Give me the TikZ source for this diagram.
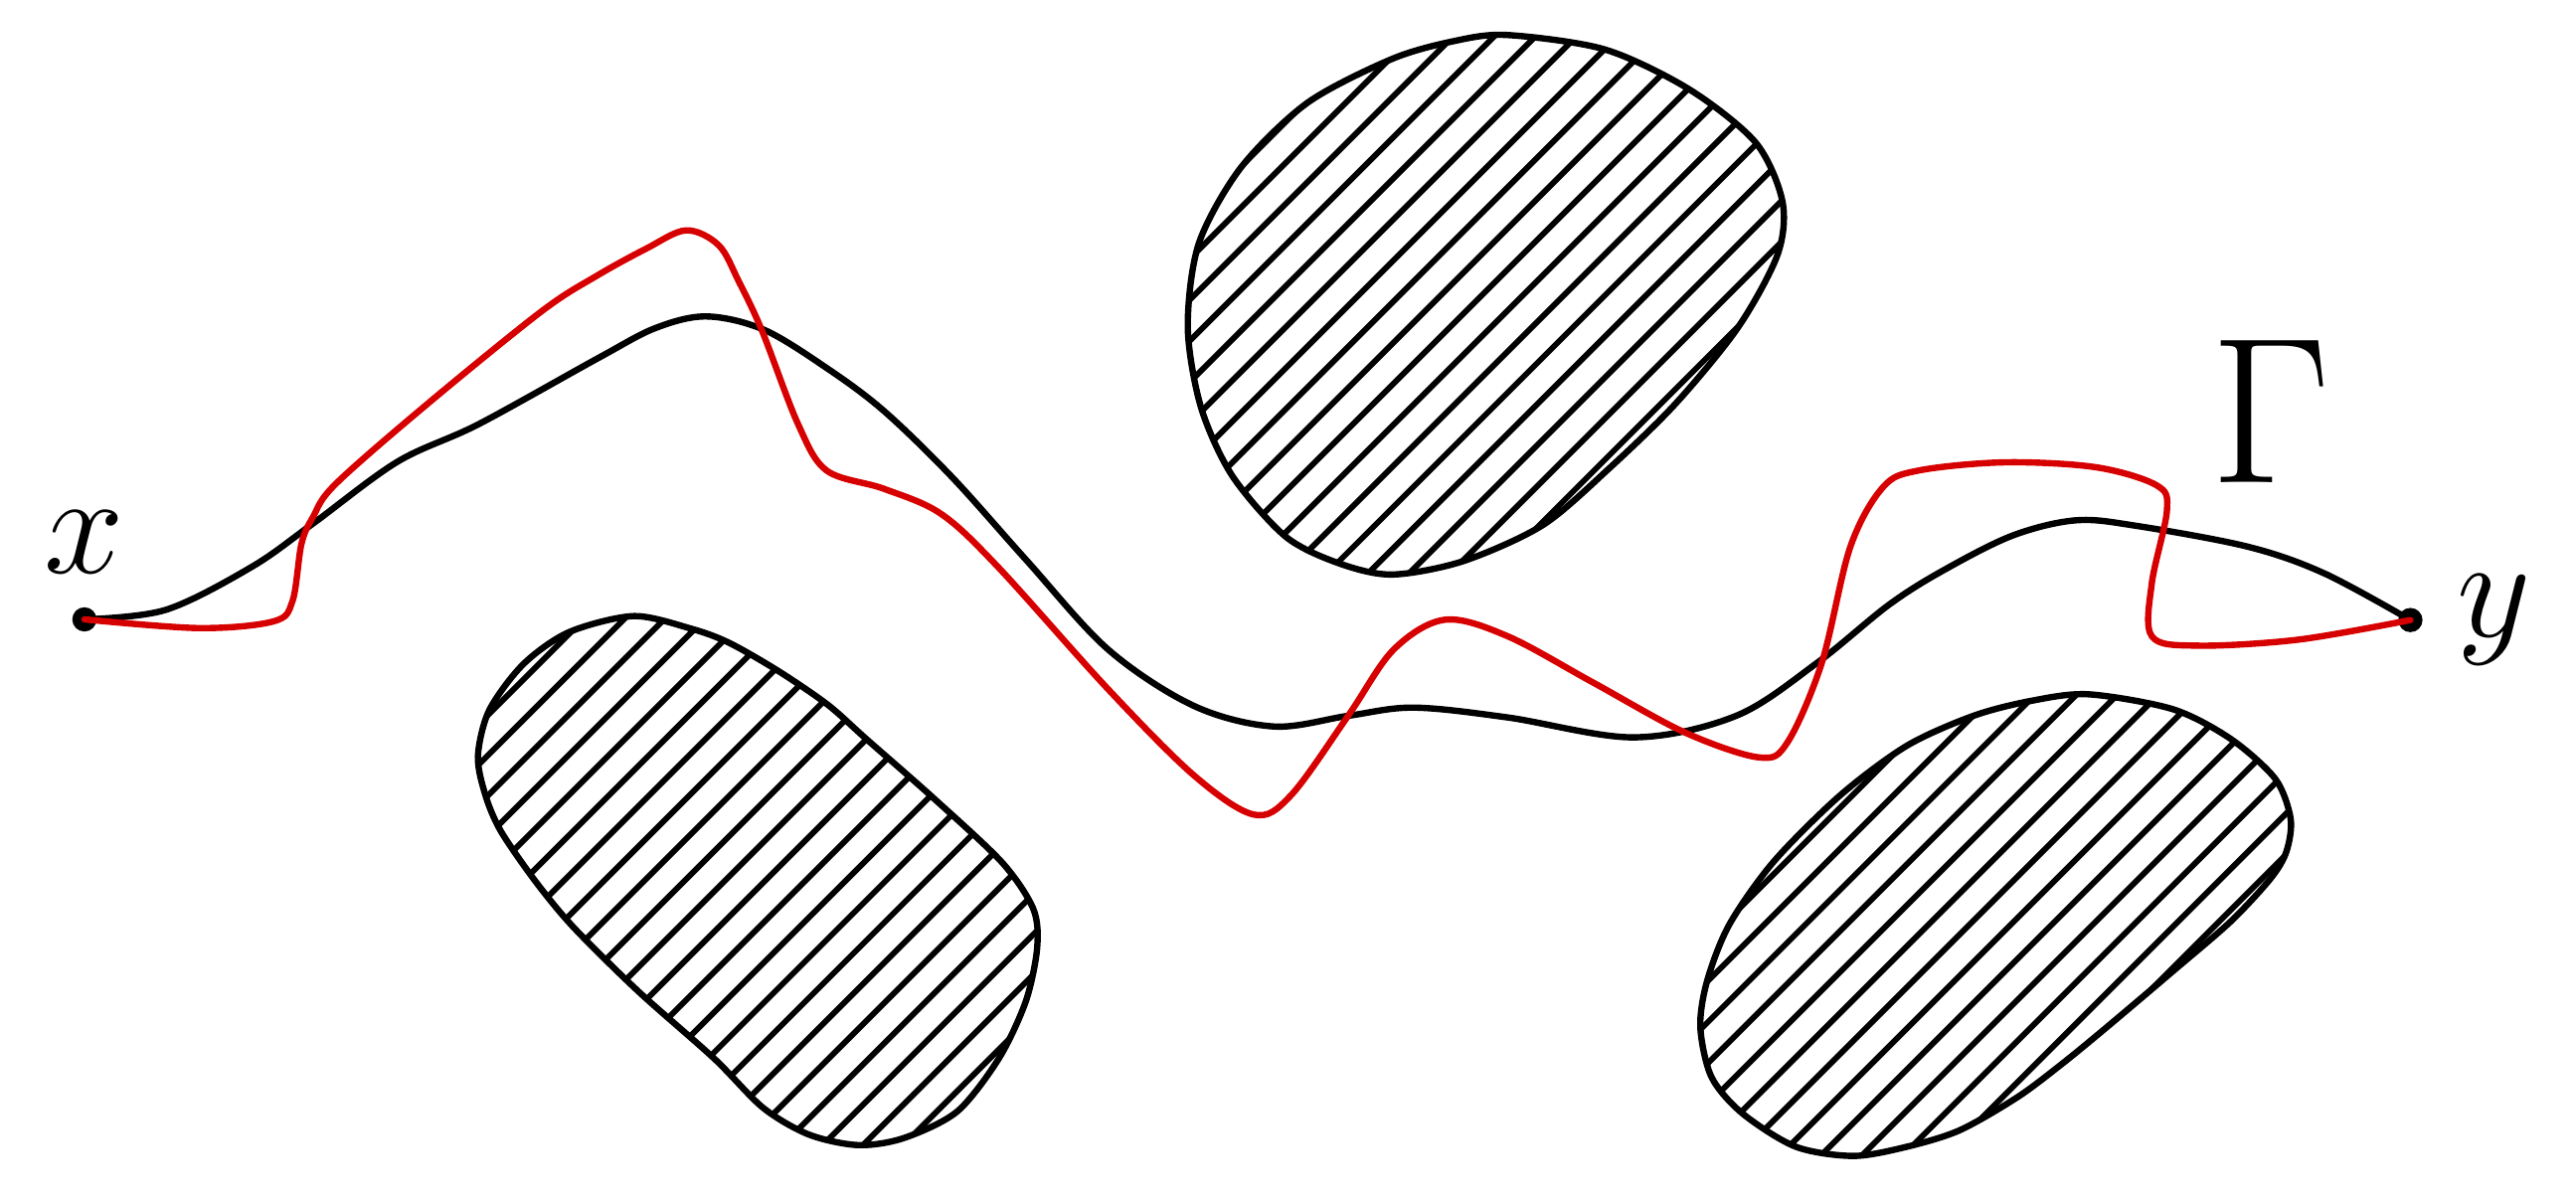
\documentclass[tikz,border=0pt]{standalone}
\usepackage{graphicx}
\definecolor{pathred}{RGB}{215,0,0}
\tikzset{
  curve/.style={line width=1.1pt, line join=round, line cap=round},
  gammacurve/.style={curve, draw=black},
  redcurve/.style={curve, draw=pathred},
  blobline/.style={line width=1.1pt, draw=black},
  hatchline/.style={line width=1.0pt, draw=black},
  dot/.style={circle, fill=black, inner sep=0pt, minimum size=4.2pt},
  lbl/.style={inner sep=0pt, anchor=base},
}
\newcommand{\hatchset}[2]{%
  \foreach \k in {-24,...,24}{%
    \pgfmathsetmacro\hc{#1+\k*#2}%
    \draw[hatchline] (\hc,0) -- (\hc-800,800);
  }}
\begin{document}
\begin{tikzpicture}[x=0.01cm,y=-0.01cm]
\useasboundingbox (0,0) rectangle (1568,732);

% top obstacle
\begin{scope}
\clip plot[smooth cycle] coordinates {(917.5,21.3) (976.9,30.1) (1028.3,54.4) (1068.7,86.8) (1085,122.7) (1082,155) (1058,199.2) (1020.1,245.5) (979.7,284.9) (939.1,319.6) (890.5,341.6) (847.2,349.7) (814.8,342.8) (782.4,326.5) (750,289.5) (731,247.8) (723,199.2) (729.7,148.2) (755.4,101.9) (795.9,62.5) (847.2,35.9) (885,25)};
\hatchset{906.7}{25}
\end{scope}
\draw[blobline] plot[smooth cycle] coordinates {(917.5,21.3) (976.9,30.1) (1028.3,54.4) (1068.7,86.8) (1085,122.7) (1082,155) (1058,199.2) (1020.1,245.5) (979.7,284.9) (939.1,319.6) (890.5,341.6) (847.2,349.7) (814.8,342.8) (782.4,326.5) (750,289.5) (731,247.8) (723,199.2) (729.7,148.2) (755.4,101.9) (795.9,62.5) (847.2,35.9) (885,25)};

% bottom-left obstacle
\begin{scope}
\clip plot[smooth cycle] coordinates {(385.8,375) (420.5,382.6) (443.7,391.2) (473.9,408.5) (503.9,429) (527.1,449.6) (568.8,486.3) (610,525) (629,553.3) (631.3,577.1) (624.4,609.5) (608.1,644.1) (582.7,676.5) (550.2,692.7) (522.4,697) (492.4,690.6) (464.5,674.3) (434.5,644.1) (388.1,603) (348.8,564.1) (325.6,536) (304.8,505.8) (295.5,484.1) (290.9,460.4) (297.8,432.3) (318.6,404.2) (346.5,384.7)};
\hatchset{756.8}{24.5}
\end{scope}
\draw[blobline] plot[smooth cycle] coordinates {(385.8,375) (420.5,382.6) (443.7,391.2) (473.9,408.5) (503.9,429) (527.1,449.6) (568.8,486.3) (610,525) (629,553.3) (631.3,577.1) (624.4,609.5) (608.1,644.1) (582.7,676.5) (550.2,692.7) (522.4,697) (492.4,690.6) (464.5,674.3) (434.5,644.1) (388.1,603) (348.8,564.1) (325.6,536) (304.8,505.8) (295.5,484.1) (290.9,460.4) (297.8,432.3) (318.6,404.2) (346.5,384.7)};

% bottom-right obstacle
\begin{scope}
\clip plot[smooth cycle] coordinates {(1271.4,422.6) (1322.7,431.7) (1357.9,449.8) (1384.9,474) (1394.3,498.3) (1391.7,518.4) (1382.2,534.6) (1357.9,560.8) (1322.7,591.1) (1282.3,625.3) (1255.2,647.5) (1228.2,667.7) (1193,687.9) (1160.7,698) (1128.2,703.6) (1093.1,698) (1060.7,677.8) (1041.8,655.6) (1035,625.3) (1039.1,597.1) (1052.6,562.8) (1079.6,524.5) (1120.1,484.1) (1160.7,453.9) (1201.2,435.7) (1236.3,426.6)};
\hatchset{1661.7}{25}
\end{scope}
\draw[blobline] plot[smooth cycle] coordinates {(1271.4,422.6) (1322.7,431.7) (1357.9,449.8) (1384.9,474) (1394.3,498.3) (1391.7,518.4) (1382.2,534.6) (1357.9,560.8) (1322.7,591.1) (1282.3,625.3) (1255.2,647.5) (1228.2,667.7) (1193,687.9) (1160.7,698) (1128.2,703.6) (1093.1,698) (1060.7,677.8) (1041.8,655.6) (1035,625.3) (1039.1,597.1) (1052.6,562.8) (1079.6,524.5) (1120.1,484.1) (1160.7,453.9) (1201.2,435.7) (1236.3,426.6)};

% end points
\coordinate (px) at (51.4,377);
\coordinate (py) at (1467.2,377.4);

% the path Gamma
\draw[gammacurve] plot[smooth, tension=0.55] coordinates {(px) (100.9,371.2) (153.3,345) (190.5,318.7) (242,281) (291.3,258.2) (364.2,217.9) (398.9,199.7) (430,192.6) (465,200.7) (503.2,224) (537.9,250) (579.6,290.5) (624.8,341) (674.6,395.4) (726.8,429.7) (775.4,442.2) (820.6,435.7) (860.5,430.7) (917.8,436.7) (994.2,448.8) (1056.8,435.7) (1106,403.5) (1149.8,368.1) (1183.2,347) (1225,326) (1263.5,316.7) (1300,320) (1368.4,332.8) (1414.8,349) (py)};

\node[dot] (dx) at (px) {};
\node[dot] (dy) at (py) {};

% the red path
\draw[redcurve] plot[smooth, tension=0.55] coordinates {(px) (121,382.3) (166.5,378.2) (178,366) (183.5,331) (190.5,314.7) (204.4,294.5) (260,246) (329.5,189.6) (363,168) (393.4,151.3) (417.6,140.2) (437.5,149.3) (449.8,171.5) (464,201.7) (485.8,258.2) (503.2,286.4) (538,297.5) (572.7,312.7) (607.4,345) (674.6,419.6) (726.8,472) (763.2,495.8) (785.8,484.1) (820.6,435.7) (848.3,395.4) (879.6,377.2) (917.8,387.3) (970,415.6) (1025.5,445.8) (1070.7,461) (1088,451.9) (1108.9,403.5) (1126.3,332.8) (1146.2,296.5) (1167.8,286.4) (1220.2,281.4) (1275.8,284.4) (1312.9,295.5) (1319,310.7) (1309.8,355) (1309.8,387.3) (1337.6,393) (1399.3,389.3) (py)};

% labels
\node[lbl] (lx) at (51,349) {\Huge $x$};
\node[lbl] (ly) at (1518,387.6) {\Huge $y$};
\node[lbl] (lg) at (1382,293.5) {\scalebox{1.45}{\Huge $\Gamma$}};
\end{tikzpicture}
\end{document}
